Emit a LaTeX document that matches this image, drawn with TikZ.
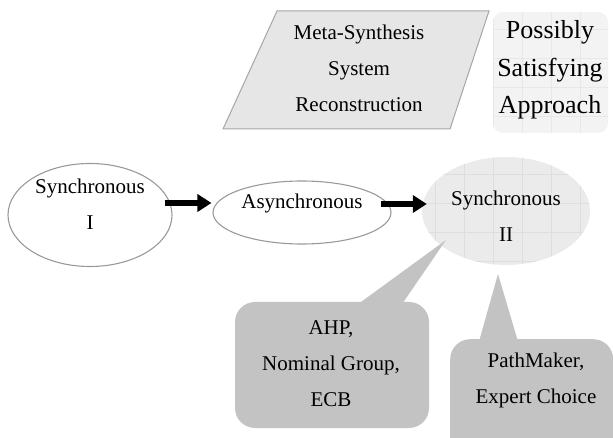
\documentclass[tikz,border=0pt]{standalone}
\usepackage{fontspec}
\setmainfont{Liberation Serif}
\usepackage{tikz}
\usetikzlibrary{positioning, arrows.meta, shapes.geometric}
\usepackage{xcolor}
\definecolor{bubblegray}{HTML}{C3C3C3}
\definecolor{panegray}{HTML}{E6E6E6}
\definecolor{softgray}{HTML}{EBEBEB}
\definecolor{gridgray}{HTML}{DEDEDE}

\begin{document}
\begin{tikzpicture}[x=1pt, y=-1pt,
    stage/.style={ellipse, draw=gray!80, line width=1.1pt, inner sep=0pt},
    txt/.style={align=center, font=\fontsize{21}{36}\selectfont},
    flow/.style={line width=6pt, -{Triangle[length=14pt, width=17pt]}},
    bubble/.style={fill=bubblegray, rounded corners=20pt, inner sep=0pt}]
    \useasboundingbox (0,0) rectangle (613,438);

    % Meta-synthesis parallelogram
    \filldraw[fill=panegray, draw=gray!70, line width=1pt]
        (277,11) -- (489,11) -- (450,129) -- (223,129) -- cycle;
    \node[txt] (meta) at (359,68) {Meta-Synthesis\\System\\Reconstruction};

    % Possibly satisfying approach
    \node[fill=softgray!60, rounded corners=10pt, minimum width=115pt,
        minimum height=121pt] (appbox) at (550.5,72.5) {};
    \begin{scope}
        \clip[rounded corners=10pt] (appbox.south west) rectangle (appbox.north east);
        \draw[gridgray!70, line width=0.4pt, step=29pt] (480,0) grid (620,140);
    \end{scope}
    \node[align=center, font=\fontsize{26}{37.5}\selectfont] (approach) at (550,70)
        {Possibly\\Satisfying\\Approach};

    % the three stages
    \node[stage, minimum width=164pt, minimum height=103pt] (syncI) at (90,215) {};
    \node[txt] (syncItxt) at (90,204) {Synchronous\\I};

    \node[stage, minimum width=178pt, minimum height=63pt] (async) at (302,212.5) {};
    \node[txt] (asynctxt) at (302,203) {Asynchronous};

    \node[ellipse, fill=softgray, inner sep=0pt, minimum width=168pt,
        minimum height=108pt] (syncII) at (506,211) {};
    \begin{scope}
        \clip (506,211) ellipse (84pt and 54pt);
        \draw[gridgray, line width=0.4pt, step=29pt] (410,150) grid (600,270);
    \end{scope}
    \node[txt] (syncIItxt) at (506,216) {Synchronous\\II};

    \draw[flow] ([xshift=-8pt, yshift=12pt]syncI.east) -- ([xshift=-1pt, yshift=9.5pt]async.west);
    \draw[flow] ([xshift=-11pt, yshift=8.5pt]async.east) -- ([xshift=5pt, yshift=7pt]syncII.west);

    % callouts
    \node[bubble, minimum width=194pt, minimum height=126pt] (ahpbox) at (332,365) {};
    \fill[bubblegray] (350,310) -- (446,240) -- (398,310) -- cycle;
    \node[txt] (ahp) at (331,364) {AHP,\\Nominal Group,\\ECB};

    \node[bubble, anchor=north west, minimum width=163pt, minimum height=130pt]
        (pmbox) at (450,339) {};
    \fill[bubblegray] (478,345) -- (498,274) -- (519,345) -- cycle;
    \node[txt] (pm) at (536,380) {PathMaker,\\Expert Choice};
\end{tikzpicture}
\end{document}
